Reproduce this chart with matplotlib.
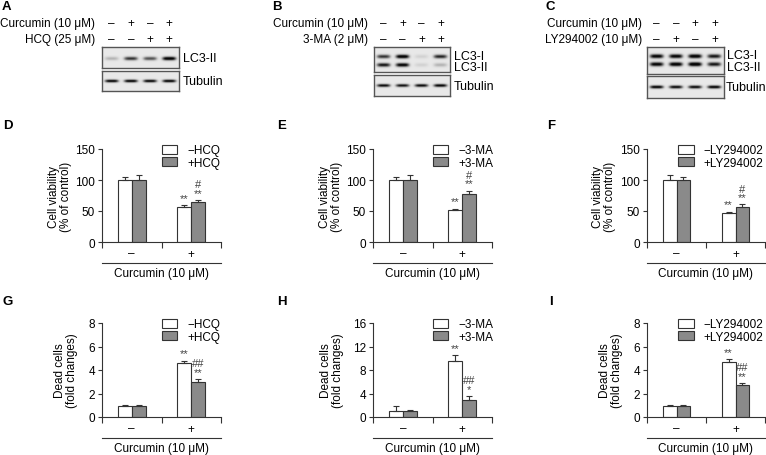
import matplotlib.pyplot as plt
import numpy as np

plt.rcParams['font.family'] = ['Liberation Sans', 'DejaVu Sans']
plt.rcParams['font.size'] = 8.5

W, H = 766, 456
EDGE = '#333333'
GRAY = '#8a8a8a'

# ---- western blot data (relative band darkness per lane) ----
curc_A = ['–', '+', '–', '+']
hcq_A = ['–', '–', '+', '+']
lc3ii_A = [0.25, 0.7, 0.6, 0.95]
tub_A = [0.9, 0.9, 0.88, 0.9]

curc_B = ['–', '+', '–', '+']
ma_B = ['–', '–', '+', '+']
lc3i_B = [0.7, 0.95, 0.12, 0.75]
lc3ii_B = [0.8, 0.9, 0.12, 0.25]
tub_B = [0.85, 0.82, 0.85, 0.88]

curc_C = ['–', '–', '+', '+']
ly_C = ['–', '+', '–', '+']
lc3i_C = [0.9, 0.9, 0.95, 0.8]
lc3ii_C = [0.9, 0.95, 1.0, 0.8]
tub_C = [0.9, 0.85, 0.85, 0.9]

# ---- bar data: [curcumin -, curcumin +] ----
groups = ['–', '+']

viab_hcq_minus, viab_hcq_minus_err = [100, 56], [5, 4]
viab_hcq_plus, viab_hcq_plus_err = [100, 64], [8, 4]
viab_ma_minus, viab_ma_minus_err = [100, 52], [5, 2]
viab_ma_plus, viab_ma_plus_err = [100, 77], [8, 6]
viab_ly_minus, viab_ly_minus_err = [100, 47], [8, 2]
viab_ly_plus, viab_ly_plus_err = [100, 57], [5, 4]

dead_hcq_minus, dead_hcq_minus_err = [0.95, 4.6], [0.05, 0.2]
dead_hcq_plus, dead_hcq_plus_err = [0.95, 3.0], [0.1, 0.25]
dead_ma_minus, dead_ma_minus_err = [1.0, 9.5], [0.8, 1.1]
dead_ma_plus, dead_ma_plus_err = [0.95, 2.9], [0.25, 0.7]
dead_ly_minus, dead_ly_minus_err = [0.95, 4.65], [0.05, 0.3]
dead_ly_plus, dead_ly_plus_err = [0.95, 2.7], [0.07, 0.2]

sig_viab_minus = ['', '**']
sig_viab_plus = ['', '#\n**']
sig_dead_hcq_plus = ['', '##\n**']
sig_dead_ma_plus = ['', '##\n*']
sig_dead_ly_plus = ['', '##\n**']

fig = plt.figure(figsize=(W / 100, H / 100), dpi=100)


def frac(x0, y0, x1, y1):
    return [x0 / W, 1 - y1 / H, (x1 - x0) / W, (y1 - y0) / H]


def blot(rect, rows, ypos, sigma):
    ax = fig.add_axes(frac(*rect))
    yy, xx = np.mgrid[0:1:80j, 0:4:240j]
    img = np.full(xx.shape, 0.17)
    for vals, yc in zip(rows, ypos):
        for i, v in enumerate(vals):
            img += v * np.exp(-((xx - i - 0.5) / 0.36) ** 4) * np.exp(-((yy - yc) / sigma) ** 2)
    ax.imshow(np.clip(img, 0, 1), cmap='Greys', vmin=0, vmax=1.02,
              extent=[0, 4, 1, 0], aspect='auto', interpolation='bilinear')
    ax.set_xticks([])
    ax.set_yticks([])
    for s in ax.spines.values():
        s.set_color('#555555')
        s.set_linewidth(1.0)
    return ax


def header(ax, labels, rows, gap):
    for (name, signs), off in zip(zip(labels, rows), [24, 8]):
        ax.annotate(name, xy=(0, 1), xycoords='axes fraction', xytext=(-gap, off),
                    textcoords='offset pixels', ha='right', va='center')
        for i, s in enumerate(signs):
            ax.annotate(s, xy=(i + 0.5, 1), xycoords=('data', 'axes fraction'),
                        xytext=(0, off), textcoords='offset pixels', ha='center', va='center')


def band_labels(ax, names, ypos, gap=4):
    for n, y in zip(names, ypos):
        ax.annotate(n, xy=(1, y), xycoords='axes fraction', xytext=(gap, 0),
                    textcoords='offset pixels', ha='left', va='center', fontsize=9)


# Panel A
a1 = blot((102, 48, 179, 69), [lc3ii_A], [0.55], 0.09)
a2 = blot((102, 72, 179, 92), [tub_A], [0.5], 0.075)
header(a1, ['Curcumin (10 μM)', 'HCQ (25 μM)'], [curc_A, hcq_A], 7)
band_labels(a1, ['LC3-II'], [0.5])
band_labels(a2, ['Tubulin'], [0.5])

# Panel B
b1 = blot((374, 48, 450, 73), [lc3i_B, lc3ii_B], [0.38, 0.72], 0.08)
b2 = blot((374, 76, 450, 97), [tub_B], [0.5], 0.075)
header(b1, ['Curcumin (10 μM)', '3-MA (2 μM)'], [curc_B, ma_B], 6)
band_labels(b1, ['LC3-I', 'LC3-II'], [0.66, 0.2])
band_labels(b2, ['Tubulin'], [0.5])

# Panel C
c1 = blot((647, 48, 724, 75), [lc3i_C, lc3ii_C], [0.34, 0.64], 0.08)
c2 = blot((647, 77, 724, 99), [tub_C], [0.5], 0.075)
header(c1, ['Curcumin (10 μM)', 'LY294002 (10 μM)'], [curc_C, ly_C], 5)
band_labels(c1, ['LC3-I', 'LC3-II'], [0.72, 0.27], gap=3)
band_labels(c2, ['Tubulin'], [0.5], gap=2)


def bar_panel(rect, drug, ylim, yticks, ylabel, minus, minus_err, plus, plus_err,
              sig_minus, sig_plus, leg_x, label_x):
    ax = fig.add_axes(frac(*rect))
    x = np.array([0.5, 1.5])
    w = 0.235
    ekw = dict(ecolor=EDGE, elinewidth=0.8, capsize=2.5, capthick=0.8)
    ax.bar(x - w / 2, minus, w, yerr=[np.zeros(2), minus_err], color='white',
           edgecolor=EDGE, linewidth=0.8, error_kw=ekw, label='−' + drug)
    ax.bar(x + w / 2, plus, w, yerr=[np.zeros(2), plus_err], color=GRAY,
           edgecolor=EDGE, linewidth=0.8, error_kw=ekw, label='+' + drug)
    for xs, means, errs, sigs in [(x - w / 2, minus, minus_err, sig_minus),
                                  (x + w / 2, plus, plus_err, sig_plus)]:
        for xi, m, e, s in zip(xs, means, errs, sigs):
            ax.annotate(s, xy=(xi, m + e), xytext=(0, 1.5), textcoords='offset points',
                        ha='center', va='bottom', fontsize=8, color='#444444',
                        linespacing=0.8)
    ax.set_xlim(0, 2)
    ax.set_ylim(*ylim)
    ax.set_yticks(yticks)
    ax.set_xticks([0, 1, 2])
    ax.set_xticklabels([])
    ax.set_xticks(x, minor=True)
    ax.set_xticklabels(groups, minor=True)
    ax.tick_params(axis='x', which='minor', length=0, pad=4, labelsize=8.5)
    ax.tick_params(axis='x', which='major', length=4, width=0.8, color=EDGE)
    ax.tick_params(axis='y', length=3, width=0.8, color=EDGE, labelsize=8.5, pad=2)
    for s in ['top', 'right']:
        ax.spines[s].set_visible(False)
    for s in ['left', 'bottom']:
        ax.spines[s].set_color(EDGE)
        ax.spines[s].set_linewidth(0.8)
    ax.set_ylabel(ylabel, linespacing=1.05)
    ax.yaxis.set_label_coords(label_x, 0.5)
    h = rect[3] - rect[1]
    ax.plot([0, 1], [-21 / h, -21 / h], transform=ax.transAxes, color=EDGE,
            lw=0.8, clip_on=False)
    ax.text(0.5, -31 / h, 'Curcumin (10 μM)', transform=ax.transAxes,
            ha='center', va='center')
    ax.legend(loc='upper left', bbox_to_anchor=(leg_x, 1.05), frameon=False,
              borderaxespad=0, borderpad=0, handlelength=1.35, handleheight=0.78,
              handletextpad=0.85, labelspacing=0.05, fontsize=8.5)
    return ax


viab = 'Cell viability\n(% of control)'
dead = 'Dead cells\n(fold changes)'
bar_panel((102, 150, 221, 243), 'HCQ', (0, 150), [0, 50, 100, 150], viab,
          viab_hcq_minus, viab_hcq_minus_err, viab_hcq_plus, viab_hcq_plus_err,
          sig_viab_minus, sig_viab_plus, 0.5, -0.25)
bar_panel((373, 150, 492, 243), '3-MA', (0, 150), [0, 50, 100, 150], viab,
          viab_ma_minus, viab_ma_minus_err, viab_ma_plus, viab_ma_plus_err,
          sig_viab_minus, sig_viab_plus, 0.5, -0.25)
bar_panel((647, 150, 765, 243), 'LY294002', (0, 150), [0, 50, 100, 150], viab,
          viab_ly_minus, viab_ly_minus_err, viab_ly_plus, viab_ly_plus_err,
          sig_viab_minus, sig_viab_plus, 0.26, -0.26)
bar_panel((102, 324, 221, 418), 'HCQ', (0, 8), [0, 2, 4, 6, 8], dead,
          dead_hcq_minus, dead_hcq_minus_err, dead_hcq_plus, dead_hcq_plus_err,
          sig_viab_minus, sig_dead_hcq_plus, 0.5, -0.20)
bar_panel((373, 324, 492, 418), '3-MA', (0, 16), [0, 4, 8, 12, 16], dead,
          dead_ma_minus, dead_ma_minus_err, dead_ma_plus, dead_ma_plus_err,
          sig_viab_minus, sig_dead_ma_plus, 0.5, -0.24)
bar_panel((647, 324, 765, 418), 'LY294002', (0, 8), [0, 2, 4, 6, 8], dead,
          dead_ly_minus, dead_ly_minus_err, dead_ly_plus, dead_ly_plus_err,
          sig_viab_minus, sig_dead_ly_plus, 0.26, -0.20)

# panel letters
for letter, (px, py) in zip('ABCDEFGHI', [(2, 1), (272, 1), (545, 1),
                                          (3, 120), (277, 120), (547, 120),
                                          (3, 296), (277, 296), (549, 296)]):
    fig.text(px / W, 1 - py / H, letter, ha='left', va='top', fontsize=9.5, fontweight='bold')

fig.savefig('out.png', dpi=100)
